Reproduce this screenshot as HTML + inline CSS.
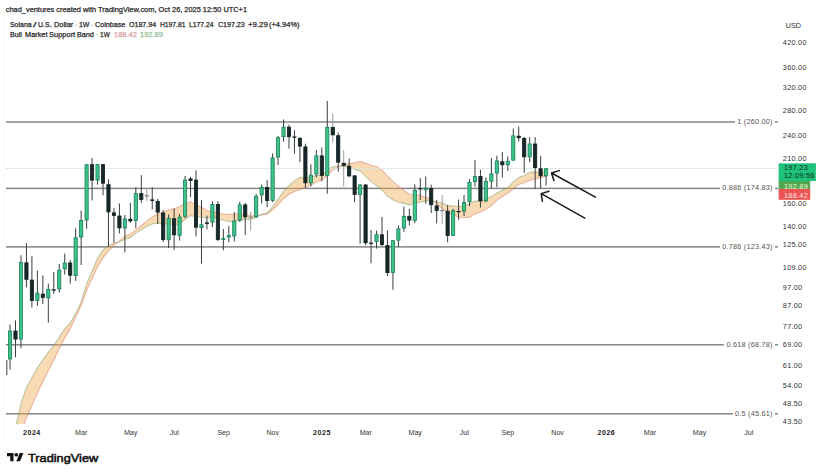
<!DOCTYPE html>
<html><head><meta charset="utf-8"><style>
html,body{margin:0;padding:0;background:#fff;}
body{width:825px;height:475px;overflow:hidden;position:relative;font-family:"Liberation Sans",sans-serif;color:#2b2b2b;}
.t{position:absolute;white-space:nowrap;line-height:1;-webkit-text-stroke:0.25px currentColor;}
.h1{left:5.8px;top:5.9px;font-size:7.4px;color:#2a2a2a;}
.h2{top:20.6px;font-size:7.3px;color:#2a2a2a;}
.h3{top:30.5px;font-size:7.3px;color:#2a2a2a;}
.sep{color:#b0b0b0;}
.fl{position:absolute;right:49.6px;height:10px;line-height:10px;font-size:7.3px;letter-spacing:0.2px;color:#555;background:#fff;padding-left:2.6px;padding-right:2.8px;white-space:nowrap;}
.pl{position:absolute;left:782.8px;height:10px;line-height:10px;font-size:7.3px;letter-spacing:0.28px;color:#333;white-space:nowrap;}
.tl{position:absolute;top:427.5px;width:40px;text-align:center;height:10px;line-height:10px;font-size:7.1px;color:#333;}
.tl.b{font-weight:bold;color:#222;letter-spacing:0.5px;}
svg{position:absolute;left:0;top:0;}
</style></head><body>
<svg width="825" height="475" viewBox="0 0 825 475">
<defs><clipPath id="cp"><rect x="6" y="15" width="772" height="409"/></clipPath></defs>
<rect x="3.5" y="14.5" width="814.5" height="425.5" fill="none" stroke="#fafafa" stroke-width="1"/>
<g clip-path="url(#cp)">
<rect x="6" y="121.25" width="772" height="1.5" fill="#858585"/>
<rect x="6" y="187.65" width="772" height="1.5" fill="#858585"/>
<rect x="6" y="246.15" width="772" height="1.5" fill="#858585"/>
<rect x="6" y="344.05" width="772" height="1.5" fill="#858585"/>
<rect x="6" y="413.05" width="772" height="1.5" fill="#858585"/>
<polygon points="4.6,455.2 10.0,439.2 15.5,427.2 21.0,403.3 26.4,387.5 31.9,377.5 37.4,367.7 42.8,360.0 48.3,352.1 53.8,345.5 59.2,337.0 64.7,328.7 70.2,323.1 75.7,313.2 81.1,302.2 86.6,283.8 92.1,271.3 97.5,258.2 103.0,249.8 108.5,246.1 113.9,243.1 119.4,241.7 124.9,239.4 130.4,237.7 135.8,233.1 141.3,229.8 146.8,226.4 152.2,223.9 157.7,222.9 163.2,224.3 168.7,223.7 174.1,224.8 179.6,224.0 185.1,219.5 190.5,215.6 196.0,216.6 201.5,217.3 206.9,217.9 212.4,216.6 217.9,218.6 223.3,220.3 228.8,221.6 234.3,221.5 239.8,219.9 245.2,219.6 250.7,219.4 256.2,217.1 261.6,214.2 267.1,212.9 272.6,207.0 278.0,199.3 283.5,191.3 289.0,185.6 294.5,180.6 299.9,177.2 305.4,177.7 310.9,177.4 316.3,175.3 321.8,175.4 327.3,170.3 332.7,166.8 338.2,166.4 343.7,166.4 349.2,167.3 354.6,169.6 360.1,170.9 365.6,176.3 371.0,181.4 376.5,185.6 382.0,190.2 387.4,196.2 392.9,199.8 398.4,202.2 403.9,203.4 409.3,204.9 414.8,203.5 420.3,202.1 425.7,200.8 431.2,201.2 436.7,202.0 442.1,202.8 447.6,205.5 453.1,205.9 458.6,206.5 464.0,206.1 469.5,203.7 475.0,201.0 480.4,201.1 485.9,199.1 491.4,196.6 496.8,193.0 502.3,190.3 507.8,187.4 513.3,181.9 518.7,177.4 524.2,175.5 529.7,172.3 535.1,171.9 540.6,172.3 546.1,172.0 546.1,175.9 540.6,177.9 535.1,179.2 529.7,180.2 524.2,182.7 518.7,184.4 513.3,188.8 507.8,193.2 502.3,196.7 496.8,200.3 491.4,205.6 485.9,209.2 480.4,211.9 475.0,213.9 469.5,217.4 464.0,217.6 458.6,217.2 453.1,215.1 447.6,212.5 442.1,208.6 436.7,203.9 431.2,198.8 425.7,197.3 420.3,195.4 414.8,194.6 409.3,194.3 403.9,190.3 398.4,186.1 392.9,181.4 387.4,175.8 382.0,170.1 376.5,166.4 371.0,165.2 365.6,163.1 360.1,161.4 354.6,162.7 349.2,163.6 343.7,164.8 338.2,167.1 332.7,170.2 327.3,175.0 321.8,180.6 316.3,181.9 310.9,185.2 305.4,187.5 299.9,189.5 294.5,191.6 289.0,194.2 283.5,198.7 278.0,204.9 272.6,209.8 267.1,214.3 261.6,214.9 256.2,215.7 250.7,215.7 245.2,214.8 239.8,213.5 234.3,214.4 228.8,214.3 223.3,214.0 217.9,212.9 212.4,211.6 206.9,210.5 201.5,207.2 196.0,205.0 190.5,201.7 185.1,203.6 179.6,206.5 174.1,208.8 168.7,209.9 163.2,212.0 157.7,213.9 152.2,217.0 146.8,221.1 141.3,225.5 135.8,229.9 130.4,234.2 124.9,236.2 119.4,241.0 113.9,245.2 108.5,251.2 103.0,257.9 97.5,266.9 92.1,278.5 86.6,290.5 81.1,305.7 75.7,317.3 70.2,328.9 64.7,338.1 59.2,348.8 53.8,360.2 48.3,370.7 42.8,382.1 37.4,393.3 31.9,405.6 26.4,418.0 21.0,433.1 15.5,452.8 10.0,463.9 4.6,476.5" fill="rgba(240,176,90,0.45)"/><polyline points="4.6,476.5 10.0,463.9 15.5,452.8 21.0,433.1 26.4,418.0 31.9,405.6 37.4,393.3 42.8,382.1 48.3,370.7 53.8,360.2 59.2,348.8 64.7,338.1 70.2,328.9 75.7,317.3 81.1,305.7 86.6,290.5 92.1,278.5 97.5,266.9 103.0,257.9 108.5,251.2 113.9,245.2 119.4,241.0 124.9,236.2 130.4,234.2 135.8,229.9 141.3,225.5 146.8,221.1 152.2,217.0 157.7,213.9 163.2,212.0 168.7,209.9 174.1,208.8 179.6,206.5 185.1,203.6 190.5,201.7 196.0,205.0 201.5,207.2 206.9,210.5 212.4,211.6 217.9,212.9 223.3,214.0 228.8,214.3 234.3,214.4 239.8,213.5 245.2,214.8 250.7,215.7 256.2,215.7 261.6,214.9 267.1,214.3 272.6,209.8 278.0,204.9 283.5,198.7 289.0,194.2 294.5,191.6 299.9,189.5 305.4,187.5 310.9,185.2 316.3,181.9 321.8,180.6 327.3,175.0 332.7,170.2 338.2,167.1 343.7,164.8 349.2,163.6 354.6,162.7 360.1,161.4 365.6,163.1 371.0,165.2 376.5,166.4 382.0,170.1 387.4,175.8 392.9,181.4 398.4,186.1 403.9,190.3 409.3,194.3 414.8,194.6 420.3,195.4 425.7,197.3 431.2,198.8 436.7,203.9 442.1,208.6 447.6,212.5 453.1,215.1 458.6,217.2 464.0,217.6 469.5,217.4 475.0,213.9 480.4,211.9 485.9,209.2 491.4,205.6 496.8,200.3 502.3,196.7 507.8,193.2 513.3,188.8 518.7,184.4 524.2,182.7 529.7,180.2 535.1,179.2 540.6,177.9 546.1,175.9" fill="none" stroke="rgba(205,90,80,0.38)" stroke-width="1.1"/><polyline points="4.6,455.2 10.0,439.2 15.5,427.2 21.0,403.3 26.4,387.5 31.9,377.5 37.4,367.7 42.8,360.0 48.3,352.1 53.8,345.5 59.2,337.0 64.7,328.7 70.2,323.1 75.7,313.2 81.1,302.2 86.6,283.8 92.1,271.3 97.5,258.2 103.0,249.8 108.5,246.1 113.9,243.1 119.4,241.7 124.9,239.4 130.4,237.7 135.8,233.1 141.3,229.8 146.8,226.4 152.2,223.9 157.7,222.9 163.2,224.3 168.7,223.7 174.1,224.8 179.6,224.0 185.1,219.5 190.5,215.6 196.0,216.6 201.5,217.3 206.9,217.9 212.4,216.6 217.9,218.6 223.3,220.3 228.8,221.6 234.3,221.5 239.8,219.9 245.2,219.6 250.7,219.4 256.2,217.1 261.6,214.2 267.1,212.9 272.6,207.0 278.0,199.3 283.5,191.3 289.0,185.6 294.5,180.6 299.9,177.2 305.4,177.7 310.9,177.4 316.3,175.3 321.8,175.4 327.3,170.3 332.7,166.8 338.2,166.4 343.7,166.4 349.2,167.3 354.6,169.6 360.1,170.9 365.6,176.3 371.0,181.4 376.5,185.6 382.0,190.2 387.4,196.2 392.9,199.8 398.4,202.2 403.9,203.4 409.3,204.9 414.8,203.5 420.3,202.1 425.7,200.8 431.2,201.2 436.7,202.0 442.1,202.8 447.6,205.5 453.1,205.9 458.6,206.5 464.0,206.1 469.5,203.7 475.0,201.0 480.4,201.1 485.9,199.1 491.4,196.6 496.8,193.0 502.3,190.3 507.8,187.4 513.3,181.9 518.7,177.4 524.2,175.5 529.7,172.3 535.1,171.9 540.6,172.3 546.1,172.0" fill="none" stroke="rgba(90,140,70,0.38)" stroke-width="1.1"/>
<line x1="6" y1="168.5" x2="778" y2="168.5" stroke="#d6e6e3" stroke-width="1" stroke-dasharray="3,1"/>
<rect x="6.30" y="360.0" width="1" height="15.0" fill="#3c3f3f"/>
<rect x="9.52" y="324.5" width="1" height="45.2" fill="#3c3f3f"/>
<rect x="14.99" y="320.3" width="1" height="36.9" fill="#3c3f3f"/>
<rect x="20.46" y="255.3" width="1" height="93.0" fill="#3c3f3f"/>
<rect x="25.93" y="243.2" width="1" height="44.1" fill="#3c3f3f"/>
<rect x="31.40" y="256.0" width="1" height="51.6" fill="#3c3f3f"/>
<rect x="36.87" y="270.5" width="1" height="35.4" fill="#3c3f3f"/>
<rect x="42.34" y="275.5" width="1" height="28.7" fill="#3c3f3f"/>
<rect x="47.81" y="283.6" width="1" height="39.1" fill="#3c3f3f"/>
<rect x="53.28" y="272.0" width="1" height="22.0" fill="#3c3f3f"/>
<rect x="58.75" y="264.0" width="1" height="28.4" fill="#3c3f3f"/>
<rect x="64.22" y="253.6" width="1" height="21.0" fill="#3c3f3f"/>
<rect x="69.69" y="259.9" width="1" height="23.7" fill="#3c3f3f"/>
<rect x="75.16" y="228.4" width="1" height="52.5" fill="#3c3f3f"/>
<rect x="80.63" y="210.5" width="1" height="54.5" fill="#3c3f3f"/>
<rect x="86.10" y="164.3" width="1" height="64.5" fill="#3c3f3f"/>
<rect x="91.57" y="158.0" width="1" height="42.4" fill="#3c3f3f"/>
<rect x="97.04" y="164.0" width="1" height="20.7" fill="#3c3f3f"/>
<rect x="102.51" y="164.0" width="1" height="31.2" fill="#3c3f3f"/>
<rect x="107.98" y="179.4" width="1" height="67.4" fill="#3c3f3f"/>
<rect x="113.45" y="207.9" width="1" height="34.9" fill="#3c3f3f"/>
<rect x="118.92" y="203.5" width="1" height="30.0" fill="#3c3f3f"/>
<rect x="124.39" y="215.0" width="1" height="37.4" fill="#3c3f3f"/>
<rect x="129.86" y="203.0" width="1" height="20.0" fill="#3c3f3f"/>
<rect x="135.33" y="187.3" width="1" height="41.0" fill="#3c3f3f"/>
<rect x="140.80" y="175.1" width="1" height="27.9" fill="#3c3f3f"/>
<rect x="146.27" y="189.4" width="1" height="11.6" fill="#9a9a9a"/>
<rect x="151.74" y="187.3" width="1" height="22.1" fill="#3c3f3f"/>
<rect x="157.21" y="199.0" width="1" height="25.0" fill="#3c3f3f"/>
<rect x="162.68" y="210.0" width="1" height="32.0" fill="#3c3f3f"/>
<rect x="168.15" y="214.4" width="1" height="33.6" fill="#3c3f3f"/>
<rect x="173.62" y="208.6" width="1" height="41.2" fill="#3c3f3f"/>
<rect x="179.09" y="214.0" width="1" height="26.6" fill="#3c3f3f"/>
<rect x="184.56" y="176.0" width="1" height="42.0" fill="#3c3f3f"/>
<rect x="190.03" y="176.7" width="1" height="20.3" fill="#3c3f3f"/>
<rect x="195.50" y="170.4" width="1" height="66.0" fill="#3c3f3f"/>
<rect x="200.97" y="200.0" width="1" height="63.5" fill="#3c3f3f"/>
<rect x="206.44" y="215.6" width="1" height="13.8" fill="#3c3f3f"/>
<rect x="211.91" y="201.2" width="1" height="25.9" fill="#3c3f3f"/>
<rect x="217.38" y="201.2" width="1" height="39.8" fill="#3c3f3f"/>
<rect x="222.85" y="229.0" width="1" height="21.3" fill="#3c3f3f"/>
<rect x="228.32" y="226.0" width="1" height="16.2" fill="#3c3f3f"/>
<rect x="233.79" y="212.0" width="1" height="29.5" fill="#3c3f3f"/>
<rect x="239.26" y="201.7" width="1" height="20.3" fill="#3c3f3f"/>
<rect x="244.73" y="203.0" width="1" height="32.0" fill="#3c3f3f"/>
<rect x="250.20" y="212.0" width="1" height="18.6" fill="#9a9a9a"/>
<rect x="255.67" y="194.0" width="1" height="24.0" fill="#3c3f3f"/>
<rect x="261.14" y="184.5" width="1" height="18.9" fill="#3c3f3f"/>
<rect x="266.61" y="180.2" width="1" height="27.0" fill="#3c3f3f"/>
<rect x="272.08" y="153.4" width="1" height="48.6" fill="#3c3f3f"/>
<rect x="277.55" y="136.0" width="1" height="29.0" fill="#3c3f3f"/>
<rect x="283.02" y="119.4" width="1" height="22.2" fill="#3c3f3f"/>
<rect x="288.49" y="124.8" width="1" height="23.8" fill="#3c3f3f"/>
<rect x="293.96" y="130.3" width="1" height="23.5" fill="#3c3f3f"/>
<rect x="299.43" y="137.0" width="1" height="25.2" fill="#3c3f3f"/>
<rect x="304.90" y="143.7" width="1" height="44.2" fill="#3c3f3f"/>
<rect x="310.37" y="164.3" width="1" height="22.1" fill="#3c3f3f"/>
<rect x="315.84" y="150.0" width="1" height="27.4" fill="#3c3f3f"/>
<rect x="321.31" y="147.5" width="1" height="33.6" fill="#3c3f3f"/>
<rect x="326.78" y="100.9" width="1" height="92.8" fill="#3c3f3f"/>
<rect x="332.25" y="113.5" width="1" height="28.8" fill="#9a9a9a"/>
<rect x="337.72" y="132.4" width="1" height="39.3" fill="#3c3f3f"/>
<rect x="343.19" y="150.0" width="1" height="36.4" fill="#9a9a9a"/>
<rect x="348.66" y="158.4" width="1" height="18.4" fill="#3c3f3f"/>
<rect x="354.13" y="175.0" width="1" height="27.3" fill="#3c3f3f"/>
<rect x="359.60" y="184.0" width="1" height="59.7" fill="#3c3f3f"/>
<rect x="365.07" y="184.0" width="1" height="61.3" fill="#3c3f3f"/>
<rect x="370.54" y="230.0" width="1" height="33.3" fill="#3c3f3f"/>
<rect x="376.01" y="230.5" width="1" height="18.1" fill="#3c3f3f"/>
<rect x="381.48" y="217.0" width="1" height="29.0" fill="#3c3f3f"/>
<rect x="386.95" y="230.5" width="1" height="45.5" fill="#3c3f3f"/>
<rect x="392.42" y="240.0" width="1" height="49.8" fill="#3c3f3f"/>
<rect x="397.89" y="225.5" width="1" height="21.4" fill="#3c3f3f"/>
<rect x="403.36" y="206.5" width="1" height="25.3" fill="#3c3f3f"/>
<rect x="408.83" y="209.0" width="1" height="16.5" fill="#3c3f3f"/>
<rect x="414.30" y="184.3" width="1" height="38.9" fill="#3c3f3f"/>
<rect x="419.77" y="178.0" width="1" height="22.0" fill="#3c3f3f"/>
<rect x="425.24" y="176.5" width="1" height="27.1" fill="#3c3f3f"/>
<rect x="430.71" y="184.6" width="1" height="28.4" fill="#3c3f3f"/>
<rect x="436.18" y="199.8" width="1" height="23.6" fill="#3c3f3f"/>
<rect x="441.65" y="195.0" width="1" height="28.6" fill="#9a9a9a"/>
<rect x="447.12" y="205.0" width="1" height="37.4" fill="#3c3f3f"/>
<rect x="452.59" y="208.9" width="1" height="27.1" fill="#3c3f3f"/>
<rect x="458.06" y="199.5" width="1" height="20.3" fill="#3c3f3f"/>
<rect x="463.53" y="195.0" width="1" height="21.0" fill="#3c3f3f"/>
<rect x="469.00" y="178.9" width="1" height="27.3" fill="#3c3f3f"/>
<rect x="474.47" y="160.0" width="1" height="26.6" fill="#3c3f3f"/>
<rect x="479.94" y="169.8" width="1" height="37.8" fill="#3c3f3f"/>
<rect x="485.41" y="177.4" width="1" height="24.6" fill="#3c3f3f"/>
<rect x="490.88" y="157.8" width="1" height="30.2" fill="#3c3f3f"/>
<rect x="496.35" y="155.7" width="1" height="31.3" fill="#3c3f3f"/>
<rect x="501.82" y="151.9" width="1" height="25.6" fill="#3c3f3f"/>
<rect x="507.29" y="156.3" width="1" height="14.6" fill="#3c3f3f"/>
<rect x="512.76" y="128.6" width="1" height="32.4" fill="#3c3f3f"/>
<rect x="518.23" y="126.4" width="1" height="15.1" fill="#3c3f3f"/>
<rect x="523.70" y="137.0" width="1" height="35.9" fill="#3c3f3f"/>
<rect x="529.17" y="137.2" width="1" height="24.8" fill="#3c3f3f"/>
<rect x="534.64" y="137.0" width="1" height="52.0" fill="#3c3f3f"/>
<rect x="540.11" y="156.1" width="1" height="32.0" fill="#3c3f3f"/>
<rect x="545.58" y="168.0" width="1" height="17.6" fill="#3c3f3f"/>
<rect x="8.42" y="331.0" width="3.20" height="28.0" fill="#3cc28a" stroke="#1a8056" stroke-width="0.8"/>
<rect x="13.89" y="331.0" width="3.20" height="8.1" fill="#17292a" stroke="#0f1d1d" stroke-width="0.8"/>
<rect x="19.36" y="262.4" width="3.20" height="76.7" fill="#3cc28a" stroke="#1a8056" stroke-width="0.8"/>
<rect x="24.83" y="262.8" width="3.20" height="16.5" fill="#17292a" stroke="#0f1d1d" stroke-width="0.8"/>
<rect x="30.30" y="280.1" width="3.20" height="20.3" fill="#17292a" stroke="#0f1d1d" stroke-width="0.8"/>
<rect x="35.77" y="293.1" width="3.20" height="7.3" fill="#3cc28a" stroke="#1a8056" stroke-width="0.8"/>
<rect x="41.24" y="294.1" width="3.20" height="3.3" fill="#17292a" stroke="#0f1d1d" stroke-width="0.8"/>
<rect x="46.71" y="289.4" width="3.20" height="8.5" fill="#3cc28a" stroke="#1a8056" stroke-width="0.8"/>
<rect x="52.18" y="289.8" width="3.20" height="0.4" fill="#17292a" stroke="#0f1d1d" stroke-width="0.8"/>
<rect x="57.65" y="270.1" width="3.20" height="18.8" fill="#3cc28a" stroke="#1a8056" stroke-width="0.8"/>
<rect x="63.12" y="263.0" width="3.20" height="5.9" fill="#3cc28a" stroke="#1a8056" stroke-width="0.8"/>
<rect x="68.59" y="263.0" width="3.20" height="12.2" fill="#17292a" stroke="#0f1d1d" stroke-width="0.8"/>
<rect x="74.06" y="237.8" width="3.20" height="37.8" fill="#3cc28a" stroke="#1a8056" stroke-width="0.8"/>
<rect x="79.53" y="220.4" width="3.20" height="16.6" fill="#3cc28a" stroke="#1a8056" stroke-width="0.8"/>
<rect x="85.00" y="164.7" width="3.20" height="55.3" fill="#3cc28a" stroke="#1a8056" stroke-width="0.8"/>
<rect x="90.47" y="164.7" width="3.20" height="15.4" fill="#17292a" stroke="#0f1d1d" stroke-width="0.8"/>
<rect x="95.94" y="164.7" width="3.20" height="15.4" fill="#3cc28a" stroke="#1a8056" stroke-width="0.8"/>
<rect x="101.41" y="164.7" width="3.20" height="18.5" fill="#17292a" stroke="#0f1d1d" stroke-width="0.8"/>
<rect x="106.88" y="184.7" width="3.20" height="27.2" fill="#17292a" stroke="#0f1d1d" stroke-width="0.8"/>
<rect x="112.35" y="212.9" width="3.20" height="2.5" fill="#17292a" stroke="#0f1d1d" stroke-width="0.8"/>
<rect x="117.82" y="216.0" width="3.20" height="11.9" fill="#17292a" stroke="#0f1d1d" stroke-width="0.8"/>
<rect x="123.29" y="218.9" width="3.20" height="9.0" fill="#3cc28a" stroke="#1a8056" stroke-width="0.8"/>
<rect x="128.76" y="219.2" width="3.20" height="1.7" fill="#17292a" stroke="#0f1d1d" stroke-width="0.8"/>
<rect x="134.23" y="193.6" width="3.20" height="26.9" fill="#3cc28a" stroke="#1a8056" stroke-width="0.8"/>
<rect x="139.70" y="193.6" width="3.20" height="5.9" fill="#17292a" stroke="#0f1d1d" stroke-width="0.8"/>
<rect x="145.17" y="195.4" width="3.20" height="0.7" fill="#8a8a8a" stroke="#8a8a8a" stroke-width="0.8"/>
<rect x="150.64" y="199.9" width="3.20" height="0.7" fill="#17292a" stroke="#0f1d1d" stroke-width="0.8"/>
<rect x="156.11" y="201.4" width="3.20" height="10.7" fill="#17292a" stroke="#0f1d1d" stroke-width="0.8"/>
<rect x="161.58" y="213.0" width="3.20" height="26.5" fill="#17292a" stroke="#0f1d1d" stroke-width="0.8"/>
<rect x="167.05" y="218.3" width="3.20" height="21.5" fill="#3cc28a" stroke="#1a8056" stroke-width="0.8"/>
<rect x="172.52" y="218.7" width="3.20" height="16.1" fill="#17292a" stroke="#0f1d1d" stroke-width="0.8"/>
<rect x="177.99" y="217.1" width="3.20" height="18.4" fill="#3cc28a" stroke="#1a8056" stroke-width="0.8"/>
<rect x="183.46" y="180.1" width="3.20" height="36.2" fill="#3cc28a" stroke="#1a8056" stroke-width="0.8"/>
<rect x="188.93" y="178.9" width="3.20" height="1.7" fill="#17292a" stroke="#0f1d1d" stroke-width="0.8"/>
<rect x="194.40" y="180.1" width="3.20" height="47.1" fill="#17292a" stroke="#0f1d1d" stroke-width="0.8"/>
<rect x="199.87" y="224.8" width="3.20" height="2.8" fill="#3cc28a" stroke="#1a8056" stroke-width="0.8"/>
<rect x="205.34" y="222.9" width="3.20" height="0.7" fill="#17292a" stroke="#0f1d1d" stroke-width="0.8"/>
<rect x="210.81" y="204.4" width="3.20" height="17.7" fill="#3cc28a" stroke="#1a8056" stroke-width="0.8"/>
<rect x="216.28" y="204.4" width="3.20" height="35.1" fill="#17292a" stroke="#0f1d1d" stroke-width="0.8"/>
<rect x="221.75" y="238.6" width="3.20" height="0.9" fill="#3cc28a" stroke="#1a8056" stroke-width="0.8"/>
<rect x="227.22" y="235.6" width="3.20" height="1.5" fill="#3cc28a" stroke="#1a8056" stroke-width="0.8"/>
<rect x="232.69" y="221.0" width="3.20" height="15.0" fill="#3cc28a" stroke="#1a8056" stroke-width="0.8"/>
<rect x="238.16" y="204.9" width="3.20" height="15.3" fill="#3cc28a" stroke="#1a8056" stroke-width="0.8"/>
<rect x="243.63" y="204.9" width="3.20" height="12.0" fill="#17292a" stroke="#0f1d1d" stroke-width="0.8"/>
<rect x="249.10" y="216.9" width="3.20" height="0.5" fill="#8a8a8a" stroke="#8a8a8a" stroke-width="0.8"/>
<rect x="254.57" y="196.3" width="3.20" height="20.6" fill="#3cc28a" stroke="#1a8056" stroke-width="0.8"/>
<rect x="260.04" y="187.4" width="3.20" height="7.6" fill="#3cc28a" stroke="#1a8056" stroke-width="0.8"/>
<rect x="265.51" y="187.4" width="3.20" height="13.1" fill="#17292a" stroke="#0f1d1d" stroke-width="0.8"/>
<rect x="270.98" y="157.9" width="3.20" height="42.6" fill="#3cc28a" stroke="#1a8056" stroke-width="0.8"/>
<rect x="276.45" y="137.7" width="3.20" height="19.4" fill="#3cc28a" stroke="#1a8056" stroke-width="0.8"/>
<rect x="281.92" y="127.2" width="3.20" height="9.5" fill="#3cc28a" stroke="#1a8056" stroke-width="0.8"/>
<rect x="287.39" y="127.2" width="3.20" height="9.5" fill="#17292a" stroke="#0f1d1d" stroke-width="0.8"/>
<rect x="292.86" y="136.9" width="3.20" height="0.4" fill="#17292a" stroke="#0f1d1d" stroke-width="0.8"/>
<rect x="298.33" y="138.4" width="3.20" height="7.7" fill="#17292a" stroke="#0f1d1d" stroke-width="0.8"/>
<rect x="303.80" y="146.9" width="3.20" height="35.9" fill="#17292a" stroke="#0f1d1d" stroke-width="0.8"/>
<rect x="309.27" y="175.2" width="3.20" height="7.6" fill="#3cc28a" stroke="#1a8056" stroke-width="0.8"/>
<rect x="314.74" y="155.9" width="3.20" height="18.1" fill="#3cc28a" stroke="#1a8056" stroke-width="0.8"/>
<rect x="320.21" y="155.9" width="3.20" height="19.6" fill="#17292a" stroke="#0f1d1d" stroke-width="0.8"/>
<rect x="325.68" y="127.3" width="3.20" height="48.2" fill="#3cc28a" stroke="#1a8056" stroke-width="0.8"/>
<rect x="331.15" y="127.3" width="3.20" height="7.6" fill="#17292a" stroke="#0f1d1d" stroke-width="0.8"/>
<rect x="336.62" y="135.7" width="3.20" height="26.5" fill="#17292a" stroke="#0f1d1d" stroke-width="0.8"/>
<rect x="342.09" y="163.2" width="3.20" height="2.2" fill="#17292a" stroke="#0f1d1d" stroke-width="0.8"/>
<rect x="347.56" y="166.2" width="3.20" height="9.7" fill="#17292a" stroke="#0f1d1d" stroke-width="0.8"/>
<rect x="353.03" y="175.9" width="3.20" height="18.4" fill="#17292a" stroke="#0f1d1d" stroke-width="0.8"/>
<rect x="358.50" y="185.0" width="3.20" height="9.3" fill="#3cc28a" stroke="#1a8056" stroke-width="0.8"/>
<rect x="363.97" y="185.0" width="3.20" height="57.8" fill="#17292a" stroke="#0f1d1d" stroke-width="0.8"/>
<rect x="369.44" y="243.0" width="3.20" height="0.4" fill="#17292a" stroke="#0f1d1d" stroke-width="0.8"/>
<rect x="374.91" y="234.7" width="3.20" height="6.9" fill="#3cc28a" stroke="#1a8056" stroke-width="0.8"/>
<rect x="380.38" y="234.8" width="3.20" height="9.8" fill="#17292a" stroke="#0f1d1d" stroke-width="0.8"/>
<rect x="385.85" y="245.6" width="3.20" height="27.0" fill="#17292a" stroke="#0f1d1d" stroke-width="0.8"/>
<rect x="391.32" y="240.7" width="3.20" height="31.8" fill="#3cc28a" stroke="#1a8056" stroke-width="0.8"/>
<rect x="396.79" y="228.9" width="3.20" height="11.3" fill="#3cc28a" stroke="#1a8056" stroke-width="0.8"/>
<rect x="402.26" y="216.3" width="3.20" height="11.8" fill="#3cc28a" stroke="#1a8056" stroke-width="0.8"/>
<rect x="407.73" y="216.3" width="3.20" height="3.8" fill="#17292a" stroke="#0f1d1d" stroke-width="0.8"/>
<rect x="413.20" y="190.4" width="3.20" height="30.2" fill="#3cc28a" stroke="#1a8056" stroke-width="0.8"/>
<rect x="418.67" y="188.6" width="3.20" height="0.4" fill="#17292a" stroke="#0f1d1d" stroke-width="0.8"/>
<rect x="424.14" y="188.2" width="3.20" height="1.6" fill="#3cc28a" stroke="#1a8056" stroke-width="0.8"/>
<rect x="429.61" y="188.4" width="3.20" height="16.3" fill="#17292a" stroke="#0f1d1d" stroke-width="0.8"/>
<rect x="435.08" y="205.9" width="3.20" height="4.5" fill="#17292a" stroke="#0f1d1d" stroke-width="0.8"/>
<rect x="440.55" y="210.4" width="3.20" height="0.4" fill="#8a8a8a" stroke="#8a8a8a" stroke-width="0.8"/>
<rect x="446.02" y="211.2" width="3.20" height="24.2" fill="#17292a" stroke="#0f1d1d" stroke-width="0.8"/>
<rect x="451.49" y="210.7" width="3.20" height="24.6" fill="#3cc28a" stroke="#1a8056" stroke-width="0.8"/>
<rect x="456.96" y="211.4" width="3.20" height="0.4" fill="#17292a" stroke="#0f1d1d" stroke-width="0.8"/>
<rect x="462.43" y="202.4" width="3.20" height="8.6" fill="#3cc28a" stroke="#1a8056" stroke-width="0.8"/>
<rect x="467.90" y="182.4" width="3.20" height="19.2" fill="#3cc28a" stroke="#1a8056" stroke-width="0.8"/>
<rect x="473.37" y="176.5" width="3.20" height="5.1" fill="#3cc28a" stroke="#1a8056" stroke-width="0.8"/>
<rect x="478.84" y="176.5" width="3.20" height="24.4" fill="#17292a" stroke="#0f1d1d" stroke-width="0.8"/>
<rect x="484.31" y="181.4" width="3.20" height="19.5" fill="#3cc28a" stroke="#1a8056" stroke-width="0.8"/>
<rect x="489.78" y="173.9" width="3.20" height="7.3" fill="#3cc28a" stroke="#1a8056" stroke-width="0.8"/>
<rect x="495.25" y="160.9" width="3.20" height="12.2" fill="#3cc28a" stroke="#1a8056" stroke-width="0.8"/>
<rect x="500.72" y="161.8" width="3.20" height="3.0" fill="#17292a" stroke="#0f1d1d" stroke-width="0.8"/>
<rect x="506.19" y="161.2" width="3.20" height="3.6" fill="#3cc28a" stroke="#1a8056" stroke-width="0.8"/>
<rect x="511.66" y="135.9" width="3.20" height="24.2" fill="#3cc28a" stroke="#1a8056" stroke-width="0.8"/>
<rect x="517.13" y="136.2" width="3.20" height="1.5" fill="#17292a" stroke="#0f1d1d" stroke-width="0.8"/>
<rect x="522.60" y="138.5" width="3.20" height="18.3" fill="#17292a" stroke="#0f1d1d" stroke-width="0.8"/>
<rect x="528.07" y="144.0" width="3.20" height="12.8" fill="#3cc28a" stroke="#1a8056" stroke-width="0.8"/>
<rect x="533.54" y="144.0" width="3.20" height="23.6" fill="#17292a" stroke="#0f1d1d" stroke-width="0.8"/>
<rect x="539.01" y="168.8" width="3.20" height="7.1" fill="#17292a" stroke="#0f1d1d" stroke-width="0.8"/>
<rect x="544.48" y="168.8" width="3.20" height="7.1" fill="#3cc28a" stroke="#1a8056" stroke-width="0.8"/>
</g>
<g stroke="#1a1a1a" stroke-width="1.5" fill="none" stroke-linecap="round" stroke-linejoin="round">
<path d="M595.4,197.1 L551.5,173 M559.3,170.6 L551.5,173 L553.9,180.6"/>
<path d="M584.8,218.2 L541.2,193.6 M549,191.2 L541.2,193.6 L542.4,201.3"/>
</g>
<rect x="778.6" y="163.3" width="37.3" height="17.7" fill="#1fc27a"/>
<rect x="778.6" y="181" width="31.6" height="7.9" fill="#52a64e"/>
<rect x="778.6" y="188.9" width="31.6" height="10.9" fill="#ec5454"/>
<g transform="translate(7,451.05) scale(0.464)" fill="#131313"><path d="M14 22H7V11H0V4h14v18zM28 22h-8l7.5-18h8L28 22z"/><circle cx="20" cy="8" r="4"/></g>
</svg>
<div class="t h1">chad_ventures created with TradingView.com, Oct 26, 2025 12:50 UTC+1</div>
<div class="t h2" style="left:10.35px;transform:scaleX(0.9501);transform-origin:0 0;">Solana</div>
<div class="t h2" style="left:33.45px;transform:scaleX(1.6738);transform-origin:0 0;">/</div>
<div class="t h2" style="left:37.95px;transform:scaleX(0.9646);transform-origin:0 0;">U.S.</div>
<div class="t h2" style="left:53.85px;transform:scaleX(1.0072);transform-origin:0 0;">Dollar</div>
<div class="t h2" style="left:78.75px;transform:scaleX(0.9495);transform-origin:0 0;">1W</div>
<div class="t h2" style="left:94.85px;transform:scaleX(0.9791);transform-origin:0 0;">Coinbase</div>
<div class="t h2" style="left:128.85px;transform:scaleX(0.9679);transform-origin:0 0;">O187.94</div>
<div class="t h2" style="left:159.85px;transform:scaleX(0.9205);transform-origin:0 0;">H197.81</div>
<div class="t h2" style="left:189.35px;transform:scaleX(0.9284);transform-origin:0 0;">L177.24</div>
<div class="t h2" style="left:217.65px;transform:scaleX(0.9676);transform-origin:0 0;">C197.23</div>
<div class="t h2" style="left:247.85px;transform:scaleX(1.0721);transform-origin:0 0;">+9.29</div>
<div class="t h2" style="left:269.35px;transform:scaleX(1.0264);transform-origin:0 0;">(+4.94%)</div>
<div class="t h3" style="left:10.35px;transform:scaleX(0.9777);transform-origin:0 0;">Bull</div>
<div class="t h3" style="left:24.65px;transform:scaleX(1.0084);transform-origin:0 0;">Market</div>
<div class="t h3" style="left:49.15px;transform:scaleX(1.0249);transform-origin:0 0;">Support</div>
<div class="t h3" style="left:77.35px;transform:scaleX(0.9855);transform-origin:0 0;">Band</div>
<div class="t h3" style="left:100.25px;transform:scaleX(0.8947);transform-origin:0 0;">1W</div>
<div class="t h3" style="left:113.55px;transform:scaleX(1.0211);transform-origin:0 0;color:#dba0a6;">188.42</div>
<div class="t h3" style="left:139.75px;transform:scaleX(1.0211);transform-origin:0 0;color:#98be98;">192.89</div>
<div style="position:absolute;left:75.2px;top:24.55px;width:1.7999999999999972px;height:0.9px;background:#cacaca"></div>
<div style="position:absolute;left:91.2px;top:24.55px;width:1.5999999999999943px;height:0.9px;background:#cacaca"></div>
<div style="position:absolute;left:96.1px;top:33.849999999999994px;width:1.6000000000000085px;height:0.9px;background:#cacaca"></div>
<div class="fl" style="top:117.0px">1 (260.00)</div>
<div class="fl" style="top:183.4px">0.886 (174.83)</div>
<div class="fl" style="top:241.9px">0.786 (123.43)</div>
<div class="fl" style="top:339.8px">0.618 (68.78)</div>
<div class="fl" style="top:408.8px">0.5 (45.61)</div>
<div class="pl" style="top:37.69px">420.00</div>
<div class="pl" style="top:63.49px">360.00</div>
<div class="pl" style="top:83.19px">320.00</div>
<div class="pl" style="top:105.54px">280.00</div>
<div class="pl" style="top:131.33px">240.00</div>
<div class="pl" style="top:153.67px">210.00</div>
<div class="pl" style="top:199.17px">160.00</div>
<div class="pl" style="top:221.51px">140.00</div>
<div class="pl" style="top:240.48px">125.00</div>
<div class="pl" style="top:263.39px">109.00</div>
<div class="pl" style="top:282.91px">97.00</div>
<div class="pl" style="top:301.11px">87.00</div>
<div class="pl" style="top:321.54px">77.00</div>
<div class="pl" style="top:339.90px">69.00</div>
<div class="pl" style="top:360.52px">61.00</div>
<div class="pl" style="top:380.91px">54.00</div>
<div class="pl" style="top:398.89px">48.50</div>
<div class="pl" style="top:417.09px">43.50</div>
<div class="pl" style="top:20.5px;left:785.7px;letter-spacing:0;">USD</div>
<div class="pl" style="top:163.3px;left:784px;color:#0c2e1e;">197.23</div>
<div class="pl" style="top:171.2px;left:784px;color:#0c2e1e;">12:09:56</div>
<div class="pl" style="top:182.3px;left:784px;color:#e6ffd8;">192.89</div>
<div class="pl" style="top:191.2px;left:784px;color:#ffe6e6;">188.42</div>
<div class="tl b" style="left:11.9px">2024</div>
<div class="tl" style="left:61.2px">Mar</div>
<div class="tl" style="left:110.6px">May</div>
<div class="tl" style="left:154.3px">Jul</div>
<div class="tl" style="left:203.7px">Sep</div>
<div class="tl" style="left:252.7px">Nov</div>
<div class="tl b" style="left:302.0px">2025</div>
<div class="tl" style="left:345.8px">Mar</div>
<div class="tl" style="left:395.2px">May</div>
<div class="tl" style="left:444.2px">Jul</div>
<div class="tl" style="left:487.9px">Sep</div>
<div class="tl" style="left:537.6px">Nov</div>
<div class="tl b" style="left:586.4px">2026</div>
<div class="tl" style="left:629.9px">Mar</div>
<div class="tl" style="left:679.5px">May</div>
<div class="tl" style="left:728.8px">Jul</div>
<div class="t" style="left:28.0px;top:452.2px;font-size:11.6px;font-weight:normal;color:#131313;-webkit-text-stroke:0.55px #131313;transform:scaleX(1.1001);transform-origin:0 0;">TradingView</div>
</body></html>
